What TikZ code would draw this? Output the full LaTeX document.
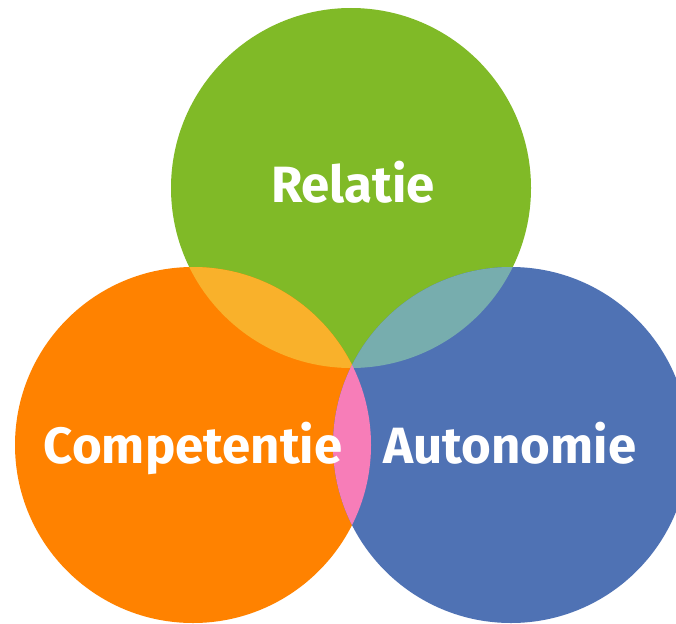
\documentclass[tikz,border=0pt]{standalone}
\usepackage{fontspec}
\setsansfont{Fira Sans}
\usetikzlibrary{positioning}

\definecolor{relgreen}{HTML}{80BA27}
\definecolor{comporange}{HTML}{FF8200}
\definecolor{autoblue}{HTML}{4F72B4}
\definecolor{mixyellow}{HTML}{F9B12B}
\definecolor{mixteal}{HTML}{77ADAE}
\definecolor{mixpink}{HTML}{F77DB8}

\tikzset{
  label text/.style={text=white,font=\sffamily\bfseries\fontsize{51}{60}\selectfont,anchor=base}
}

\begin{document}
\begin{tikzpicture}[x=1pt,y=-1pt]
    \useasboundingbox (0,0) rectangle (676,623);
    % the three circles
    \fill[relgreen]   (351,188) circle (180);
    \fill[comporange] (193,445) circle (178);
    \fill[autoblue]   (511,445) circle (178);
    % overlaps
    \begin{scope}
      \clip (351,188) circle (180);
      \fill[mixyellow] (193,445) circle (178);
      \fill[mixteal]   (511,445) circle (178);
    \end{scope}
    \begin{scope}
      \clip (193,445) circle (178);
      \fill[mixpink] (511,445) circle (178);
    \end{scope}
    % labels
    \node[label text] (R) at (353,202) {Relatie};
    \node[label text] (C) at (193,463) {Competentie};
    \node[label text] (A) at (510,463) {Autonomie};
\end{tikzpicture}
\end{document}
